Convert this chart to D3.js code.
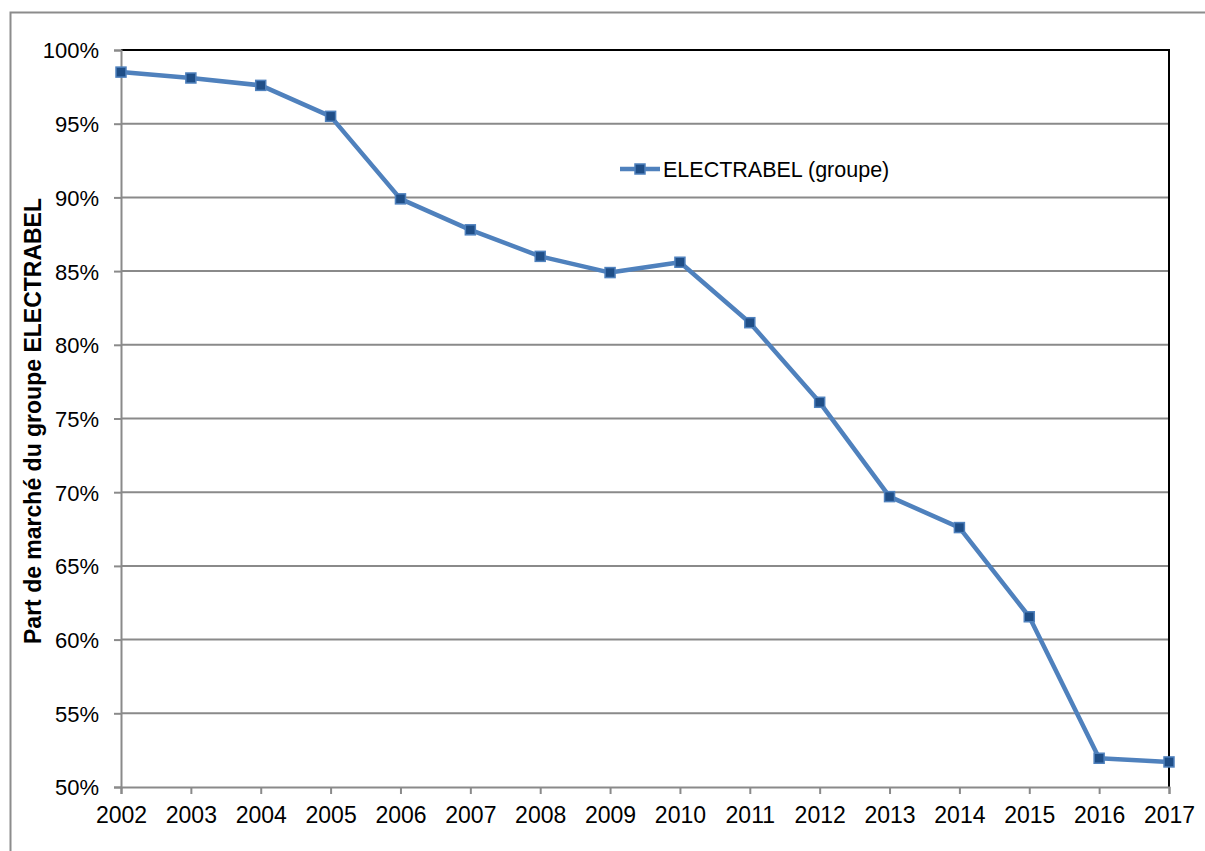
<!DOCTYPE html>
<html>
<head>
<meta charset="utf-8">
<script src="https://cdn.jsdelivr.net/npm/d3@7"></script>
<style>
  body { margin: 0; background: #fff; }
  svg { display: block; font-family: Arial, "Liberation Sans", sans-serif; }
</style>
</head>
<body>
<div class="chart"></div>
<script>
var years = [2002, 2003, 2004, 2005, 2006, 2007, 2008, 2009, 2010, 2011, 2012, 2013, 2014, 2015, 2016, 2017];
var shares = [98.5, 98.1, 97.6, 95.5, 89.9, 87.8, 86.0, 84.9, 85.6, 81.5, 76.1, 69.7, 67.6, 61.55, 51.95, 51.7];
var yTicks = [50, 55, 60, 65, 70, 75, 80, 85, 90, 95, 100];
var seriesName = "ELECTRABEL (groupe)";
var yTitle = "Part de marché du groupe ELECTRABEL";

var svgWidth = 1205;
var svgHeight = 851;

var margin = { top: 50, right: 36, bottom: 64, left: 121 };
var width = svgWidth - margin.left - margin.right;
var height = svgHeight - margin.top - margin.bottom;

var svg = d3.select(".chart")
  .append("svg")
  .attr("width", svgWidth)
  .attr("height", svgHeight);

// outer chart frame (runs off the right and bottom edges)
svg.append("rect")
  .attr("x", 10.5)
  .attr("y", 12.5)
  .attr("width", svgWidth + 20)
  .attr("height", svgHeight + 20)
  .attr("fill", "none")
  .attr("stroke", "#8c8c8c")
  .attr("stroke-width", 2);

var chartGroup = svg.append("g")
  .attr("transform", `translate(${margin.left}, ${margin.top})`);

var xScale = d3.scalePoint()
  .domain(years)
  .range([0, width]);

var yScale = d3.scaleLinear()
  .domain([50, 100])
  .range([height, 0]);

// gridlines
chartGroup.selectAll(".grid")
  .data(yTicks.filter(d => d > 50 && d < 100))
  .enter()
  .append("line")
  .attr("x1", 0)
  .attr("x2", width)
  .attr("y1", d => yScale(d))
  .attr("y2", d => yScale(d))
  .attr("stroke", "#8a8a8a")
  .attr("stroke-width", 2);

// plot border top / right in black
chartGroup.append("path")
  .attr("d", `M0,${yScale(100)}H${width}V${height}`)
  .attr("fill", "none")
  .attr("stroke", "#000")
  .attr("stroke-width", 2);

// axes
var leftAxis = d3.axisLeft(yScale)
  .tickValues(yTicks)
  .tickSize(7)
  .tickPadding(15)
  .tickFormat(d => d + "%");

var bottomAxis = d3.axisBottom(xScale)
  .tickSize(7)
  .tickPadding(13);

var yAxisG = chartGroup.append("g").call(leftAxis);
var xAxisG = chartGroup.append("g")
  .attr("transform", `translate(0, ${height})`)
  .call(bottomAxis);

[yAxisG, xAxisG].forEach(function (g) {
  g.select(".domain").attr("stroke", "#8a8a8a").attr("stroke-width", 2);
  g.selectAll(".tick line").attr("stroke", "#8a8a8a").attr("stroke-width", 2);
  g.selectAll(".tick text")
    .attr("font-family", "Arial, 'Liberation Sans', sans-serif")
    .attr("fill", "#000");
});
yAxisG.selectAll(".tick text").attr("font-size", "22px").attr("dy", "0.36em");
xAxisG.selectAll(".tick text").attr("font-size", "23px");

// y axis title
chartGroup.append("text")
  .attr("transform", `translate(${33 - margin.left}, ${421 - margin.top}) rotate(-90)`)
  .attr("text-anchor", "middle")
  .attr("dy", "0.35em")
  .attr("font-size", "23px")
  .attr("font-weight", "bold")
  .attr("fill", "#000")
  .text(yTitle);

// line
var line = d3.line()
  .x((d, i) => xScale(years[i]))
  .y(d => yScale(d));

chartGroup.append("path")
  .datum(shares)
  .attr("d", line)
  .attr("fill", "none")
  .attr("stroke", "#4f81bd")
  .attr("stroke-width", 4.5)
  .attr("stroke-linejoin", "round");

// markers
chartGroup.selectAll(".dots")
  .data(shares)
  .enter()
  .append("rect")
  .attr("class", "dots")
  .attr("x", (d, i) => xScale(years[i]) - 5)
  .attr("y", d => yScale(d) - 5)
  .attr("width", 10)
  .attr("height", 10)
  .attr("fill", "#1f4e87")
  .attr("stroke", "#4f81bd")
  .attr("stroke-width", 1.5);

// legend
var legend = svg.append("g")
  .attr("transform", "translate(620, 169)");

legend.append("line")
  .attr("x1", 0)
  .attr("x2", 40)
  .attr("stroke", "#4f81bd")
  .attr("stroke-width", 4.5);

legend.append("rect")
  .attr("x", 15)
  .attr("y", -5)
  .attr("width", 10)
  .attr("height", 10)
  .attr("fill", "#1f4e87")
  .attr("stroke", "#4f81bd")
  .attr("stroke-width", 1.5);

legend.append("text")
  .attr("x", 43)
  .attr("dy", "0.36em")
  .attr("font-size", "21.5px")
  .attr("fill", "#000")
  .text(seriesName);
</script>
</body>
</html>
